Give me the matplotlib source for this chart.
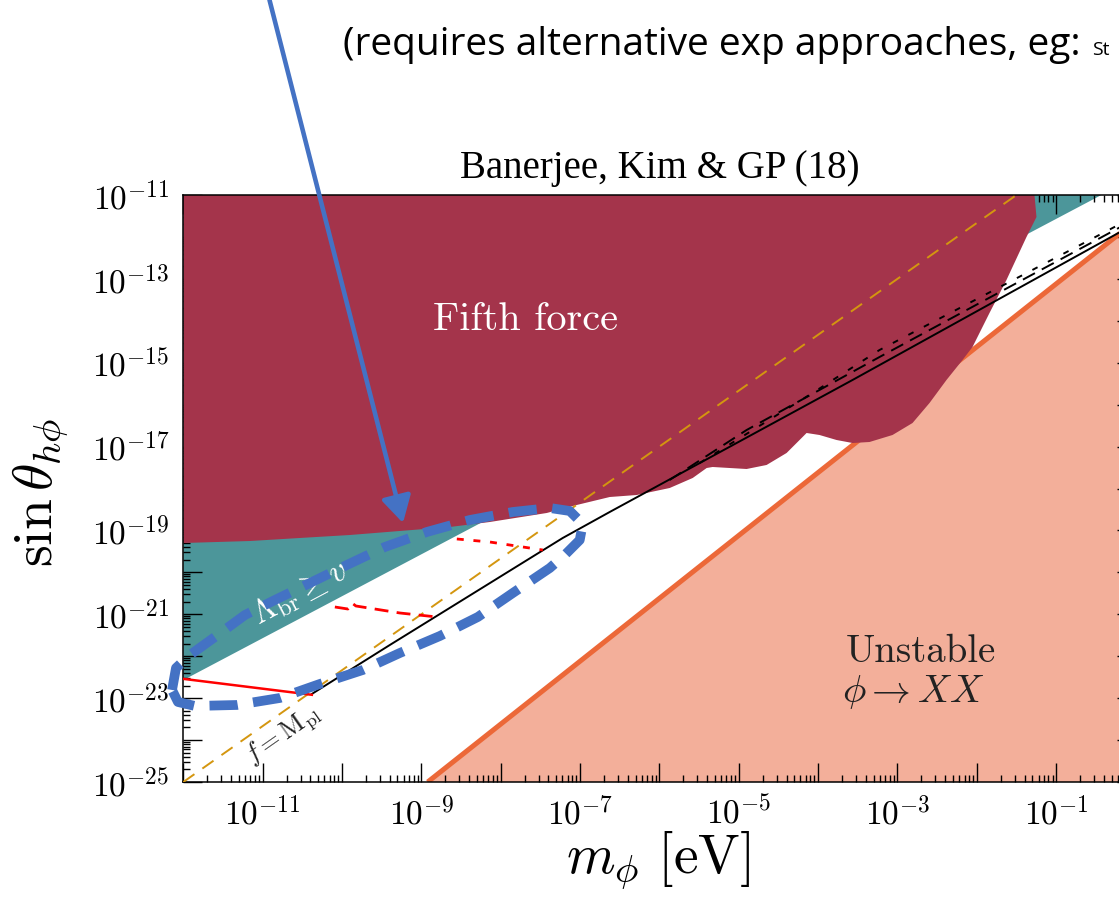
import numpy as np
import matplotlib
matplotlib.use("Agg")
import matplotlib.pyplot as plt
from matplotlib.ticker import LogLocator, FuncFormatter, NullFormatter
from matplotlib.patches import FancyArrowPatch

plt.rcParams['mathtext.fontset'] = 'cm'
plt.rcParams['font.family'] = 'serif'
plt.rcParams['font.serif'] = ['cmr10', 'DejaVu Serif']
plt.rcParams['axes.unicode_minus'] = False

# all values are log10(m_phi / eV) and log10(sin theta)
fifth_logm = [-12.0, -12.0, -11.156, -10.530, -9.900, -9.271, -8.641, -8.137, -7.419,
              -7.041, -6.626, -6.286, -5.870, -5.580, -5.404, -5.329, -4.901, -4.649,
              -4.397, -4.233, -4.145, -3.982, -3.768, -3.566, -3.352, -3.062, -2.810,
              -2.596, -2.382, -2.180, -2.054, -1.840, -1.626, -1.374, -1.248, -1.273]
fifth_logs = [-11.0, -19.30, -19.252, -19.180, -19.109, -19.013, -18.918, -18.799, -18.584,
              -18.393, -18.203, -18.155, -17.988, -17.749, -17.511, -17.487, -17.535, -17.439,
              -17.153, -16.843, -16.676, -16.724, -16.843, -16.915, -16.891, -16.724, -16.438,
              -15.961, -15.412, -14.935, -14.625, -13.814, -13.027, -12.002, -11.525, -11.0]

lambda_logm = [-12.0, -0.43, -12.0]
lambda_logs = [-22.57, -11.0, -11.0]

unstable_logm = [-8.92, 0.0]
unstable_logs = [-25.0, -11.62]

fmpl_logm = [-12.0, -1.5]
fmpl_logs = [-25.0, -11.0]

black_solid_logm = [-10.38, -9.397, -7.218, -6.626, -3.566, -0.216]
black_solid_logs = [-22.90, -21.732, -19.180, -18.560, -15.412, -11.906]
black_dash_logm = [-5.871, -4.901, -3.226, 0.0]
black_dash_logs = [-17.797, -16.605, -14.864, -11.57]
black_dot_logm = [-5.493, -4.070, -3.226, 0.0]
black_dot_logs = [-17.392, -15.722, -14.697, -11.50]

red_solid_logm = [-12.0, -10.38]
red_solid_logs = [-22.54, -22.92]
red_dash_logm = [-10.090, -9.926, -9.875, -9.825, -9.271, -8.805]
red_dash_logs = [-20.826, -20.874, -20.730, -20.802, -20.969, -21.064]
red_dot_logm = [-8.553, -8.137, -7.721, -7.469]
red_dot_logs = [-19.204, -19.276, -19.395, -19.467]

loop_logm = [-12.142, -12.092, -11.916, -11.601, -11.223, -10.845, -10.404, -9.938, -9.460,
             -8.931, -8.389, -7.847, -7.381, -7.130, -6.966, -7.004, -7.193, -7.381, -7.847,
             -8.288, -8.767, -9.271, -9.737, -10.279, -10.782, -11.324, -11.853, -12.067, -12.142]
loop_logs = [-22.805, -22.281, -21.971, -21.541, -21.017, -20.659, -20.254, -19.824, -19.395,
             -19.037, -18.751, -18.560, -18.465, -18.536, -18.846, -19.228, -19.586, -19.896, -20.492,
             -21.064, -21.518, -21.923, -22.328, -22.662, -22.996, -23.163, -23.187, -23.092, -22.805]

c_fifth = '#A4344B'
c_teal = '#4C969A'
c_salmon = '#F3AF9A'
c_orange = '#EC6838'
c_gold = '#D4960F'
c_blue = '#4472C4'

W, H = 1119, 914
fig = plt.figure(figsize=(W / 100, H / 100), dpi=100)
ax = fig.add_axes([183.3 / W, (H - 782) / H, (1135.5 - 183.3) / W, (782 - 195) / H])
ax.set_xscale('log')
ax.set_yscale('log')
ax.set_xlim(1e-12, 1e0)
ax.set_ylim(1e-25, 1e-11)

p = lambda a: 10.0 ** np.array(a)

# regions
ax.fill(p(lambda_logm), p(lambda_logs), color=c_teal, lw=0, zorder=1)
um = p(unstable_logm)
us = p(unstable_logs)
ax.fill([um[0], um[1], um[1]], [us[0], us[1], us[0]], color=c_salmon, lw=0, zorder=1.5)
ax.plot(um, us, color=c_orange, lw=3.6, zorder=1.8, solid_capstyle='butt')
ax.fill(p(fifth_logm), p(fifth_logs), color=c_fifth, lw=0, zorder=2)

# lines
ax.plot(p(fmpl_logm), p(fmpl_logs), color=c_gold, lw=1.4, dashes=(7, 5), zorder=3)
ax.plot(p(black_solid_logm), p(black_solid_logs), color='black', lw=1.4, zorder=3)
ax.plot(p(black_dash_logm), p(black_dash_logs), color='black', lw=1.4, dashes=(7, 4), zorder=3)
ax.plot(p(black_dot_logm), p(black_dot_logs), color='black', lw=1.4, dashes=(3, 6), zorder=3)
ax.plot(p(red_solid_logm), p(red_solid_logs), color='red', lw=1.8, zorder=3)
ax.plot(p(red_dash_logm), p(red_dash_logs), color='red', lw=2.0, dashes=(5, 3), zorder=3)
ax.plot(p(red_dot_logm), p(red_dot_logs), color='red', lw=2.0, dashes=(2.5, 3.5), zorder=3)

# blue annotation loop
ax.plot(p(loop_logm), p(loop_logs), color=c_blue, lw=7, dashes=(2.9, 1.6),
        zorder=5, clip_on=False)

# labels inside
ax.text(0.359, 0.770, 'Fifth force', transform=ax.transAxes, color='white',
        fontsize=29, ha='center', va='baseline', zorder=6)
ax.text(0.775, 0.204, 'Unstable', transform=ax.transAxes, color='#222222',
        fontsize=28, ha='center', va='baseline', zorder=6)
ax.text(0.767, 0.136, r'$\phi \to XX$', transform=ax.transAxes, color='#222222',
        fontsize=28, ha='center', va='baseline', zorder=6)
ax.text(0.123, 0.322, r'$\Lambda_{\rm br} \geq v$', transform=ax.transAxes, color='white',
        fontsize=24, ha='center', va='center', rotation=28, rotation_mode='anchor', zorder=4)
ax.text(0.105, 0.080, r'$f = \mathrm{M}_{\rm pl}$', transform=ax.transAxes, color='#222222',
        fontsize=19, ha='center', va='center', rotation=35, rotation_mode='anchor', zorder=4)

# ticks
def fmt(v, pos):
    e = int(round(np.log10(v)))
    return r'$10^{%d}$' % e if e % 2 != 0 else ''

for axis in (ax.xaxis, ax.yaxis):
    axis.set_major_locator(LogLocator(base=10, numticks=40))
    axis.set_minor_locator(LogLocator(base=10, subs=np.arange(2, 10), numticks=40))
    axis.set_major_formatter(FuncFormatter(fmt))
    axis.set_minor_formatter(NullFormatter())
ax.tick_params(which='both', direction='in', top=True, right=True, labelsize=24, width=1.0)
ax.tick_params(which='major', length=13.5, pad=10)
ax.tick_params(which='minor', length=5)
for s in ax.spines.values():
    s.set_linewidth(1.1)

fig.text(40 / W, 1 - 492 / H, r'$\sin\theta_{h\phi}$', fontsize=40, rotation=90,
         ha='center', va='center')
fig.text(658 / W, 1 - 860 / H, r'$m_\phi\ [\mathrm{eV}]$', fontsize=40,
         ha='center', va='center')
fig.text(660 / W, 1 - 178 / H, 'Banerjee, Kim & GP (18)', fontsize=28,
         family='Liberation Serif', ha='center', va='baseline')

# slide annotation on top
fig.text(343 / W, 1 - 55 / H, '(requires alternative exp approaches, eg:', fontsize=28,
         family='Open Sans', ha='left', va='baseline')
fig.text(1092 / W, 1 - 55 / H, 'St', fontsize=14, family='Open Sans', ha='left', va='baseline')
arrow = FancyArrowPatch((269.5 / W, 1.0), (403 / W, 1 - 523 / H), transform=fig.transFigure,
                        arrowstyle='-|>,head_length=0.8,head_width=0.45', mutation_scale=20,
                        color=c_blue, lw=3.3, zorder=10, shrinkA=0, shrinkB=0)
fig.add_artist(arrow)

fig.savefig('out.png', dpi=100)
